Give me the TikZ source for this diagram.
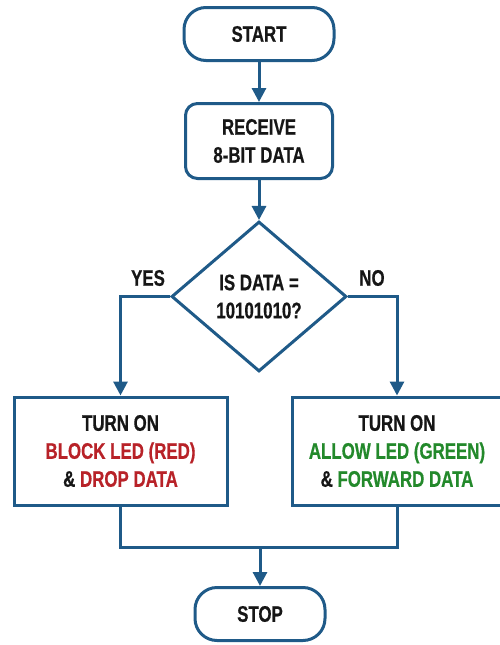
\documentclass[tikz,border=0pt]{standalone}
\usepackage{fontspec}
\usepackage{xcolor}
\usepackage{tikz}
\usetikzlibrary{arrows.meta,positioning,calc,shapes.geometric}
\newfontfamily\flowfont{Liberation Sans Bold}[FakeStretch=0.75,FakeBold=0.6]
\definecolor{flowblue}{HTML}{1F5A88}
\definecolor{ink}{HTML}{161616}
\definecolor{ledred}{HTML}{B82228}
\definecolor{ledgreen}{HTML}{23892B}
\tikzset{
    every picture/.style={line join=miter},
    terminal/.style={draw=flowblue,fill=white,line width=3pt,rounded corners=22pt,
      minimum height=53pt,inner sep=2pt,text=ink,align=center},
    procbox/.style={draw=flowblue,fill=white,line width=3pt,rounded corners=12pt,
      minimum width=147pt,minimum height=75pt,inner sep=2pt,text=ink,align=center},
    decision/.style={draw=flowblue,fill=white,diamond,line width=3pt,aspect=1.16,
      minimum width=175pt,minimum height=150pt,inner sep=0pt,text=ink,align=center},
    actbox/.style={draw=flowblue,fill=white,line width=3pt,
      minimum height=108pt,inner sep=2pt,text=ink,align=center},
    flowline/.style={draw=flowblue,line width=3pt},
    flowarrow/.style={flowline,-{Triangle[length=14pt,width=14pt]}},
    branchlabel/.style={text=ink,inner sep=1pt}
}

\begin{document}
\begin{tikzpicture}[x=1pt,y=1pt,font=\flowfont\fontsize{22.5}{28}\selectfont]
    \useasboundingbox (0,0) rectangle (500,-645);
    \node[terminal,minimum width=150pt] (start) at (259,-34) {START};
    \node[procbox,below=40pt of start] (receive) {RECEIVE\\8-BIT DATA};
    \node[decision,below=40pt of receive] (check) {IS DATA =\\10101010?};
    \node[actbox,minimum width=213pt] (drop) at (120.5,-451)
        {TURN ON\\\textcolor{ledred}{BLOCK LED (RED)}\\\& \textcolor{ledred}{DROP DATA}};
    \node[actbox,minimum width=210pt] (forward) at (397,-451)
        {TURN ON\\\textcolor{ledgreen}{ALLOW LED (GREEN)}\\\& \textcolor{ledgreen}{FORWARD DATA}};
    \node[terminal,minimum width=130pt] (stop) at (260,-614) {STOP};
    \node[branchlabel] (yes) at (148,-278) {YES};
    \node[branchlabel] (no) at (372,-278) {NO};
    % main chain
    \draw[flowarrow] (start)--(receive);
    \draw[flowarrow] (receive)--(check);
    \draw[flowarrow] (check.west) -| (drop.north);
    \draw[flowarrow] (check.east) -| (forward.north);
    % merge into stop
    \coordinate (merge) at (stop.north |- 0,-547);
    \draw[flowline] (drop.south) |- (merge) -| (forward.south);
    \draw[flowarrow] (merge)--(stop);
\end{tikzpicture}
\end{document}
